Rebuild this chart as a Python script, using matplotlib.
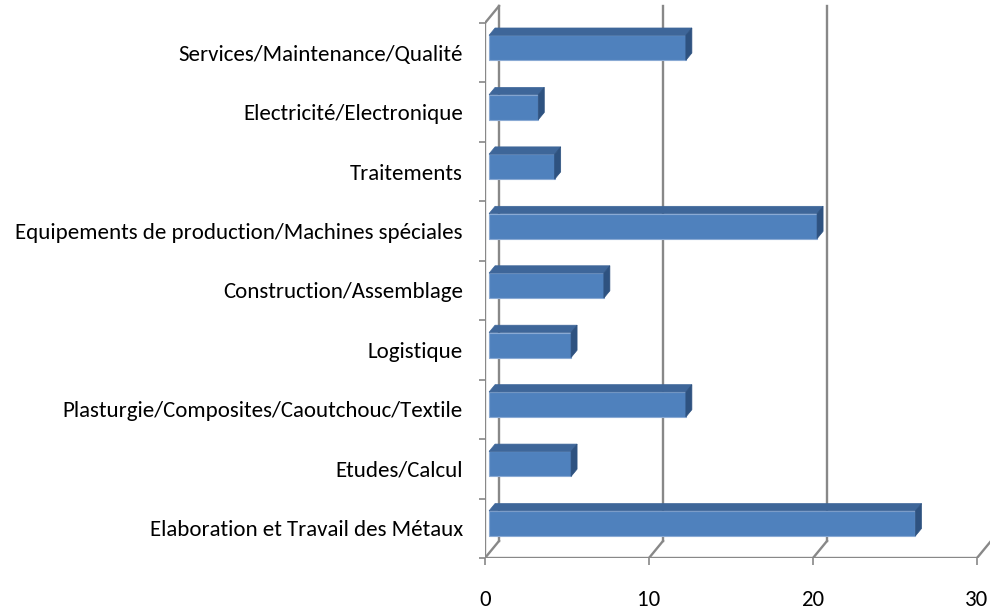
import numpy as np
import matplotlib
matplotlib.use("Agg")
import matplotlib.pyplot as plt
from matplotlib.patches import Polygon

plt.rcParams['font.family'] = ['Carlito', 'Archivo Narrow', 'DejaVu Sans']

# données (de bas en haut)
categories = [
    "Elaboration et Travail des Métaux",
    "Etudes/Calcul",
    "Plasturgie/Composites/Caoutchouc/Textile",
    "Logistique",
    "Construction/Assemblage",
    "Equipements de production/Machines spéciales",
    "Traitements",
    "Electricité/Electronique",
    "Services/Maintenance/Qualité",
]
values = [26, 5, 12, 5, 7, 20, 4, 3, 12]
xticks = [0, 10, 20, 30]

W, H = 990, 614
fig = plt.figure(figsize=(W / 100, H / 100), dpi=100)

# échelle en pixels
sx = 16.4                  # px par unité
sy = (558 - 23) / 9        # px par catégorie
x0_px, y0_px = 485, 558
ax = fig.add_axes([x0_px / W, (H - y0_px) / H, (W - x0_px) / W, y0_px / H])
ax.set_xlim(0, (W - x0_px) / sx)
ax.set_ylim(-0.5, -0.5 + y0_px / sy)
for s in ax.spines.values():
    s.set_visible(False)

# profondeur 3D
DX = 14 / sx
DY = 17 / sy
n = len(categories)
ytop = n - 0.5
ybot = -0.5
gcol = '#888888'
lw = 1.7

# murs / grille
ax.plot([0, 0], [ybot, ytop], color=gcol, lw=lw)
ax.plot([0, xticks[-1]], [ybot, ybot], color=gcol, lw=lw)
ax.plot([0, DX], [ytop, ytop + DY], color=gcol, lw=lw)
for t in xticks:
    ax.plot([t, t + DX], [ybot, ybot + DY], color=gcol, lw=lw)
    if t < xticks[-1]:
        ax.plot([t + DX, t + DX], [ybot + DY, ytop + DY], color=gcol, lw=lw)

# barres 3D
f0, f1 = 0.29, 0.72
h = 25 / sy
ox, oy = f0 * DX, f0 * DY
dx, dy = (f1 - f0) * DX, (f1 - f0) * DY
ypos = np.arange(n)
ax.barh(ypos + oy, values, height=h, left=ox, color='#4f81bd',
        edgecolor='#8aaad4', linewidth=0.8, zorder=3)
for y, v in zip(ypos + oy, values):
    yt, yb = y + h / 2, y - h / 2
    xr = ox + v
    top = Polygon([(ox, yt), (xr, yt), (xr + dx, yt + dy), (ox + dx, yt + dy)],
                  closed=True, facecolor='#3e6699', edgecolor='#3e6699', lw=0.5, zorder=3)
    side = Polygon([(xr, yb), (xr, yt), (xr + dx, yt + dy), (xr + dx, yb + dy)],
                   closed=True, facecolor='#2e5280', edgecolor='#2e5280', lw=0.5, zorder=3)
    ax.add_patch(top)
    ax.add_patch(side)

# graduations
ax.set_yticks(ypos)
ax.set_yticklabels(categories, fontsize=16.5)
ax.set_yticks(np.arange(n + 1) - 0.5, minor=True)
ax.tick_params(axis='y', which='major', length=0, pad=16)
ax.tick_params(axis='y', which='minor', length=4.5, width=1.2, color=gcol)
ax.set_xticks(xticks)
ax.set_xticklabels([str(t) for t in xticks], fontsize=16.5)
ax.tick_params(axis='x', length=5, width=1.2, color=gcol, pad=18)

fig.savefig("out.png", dpi=100)
